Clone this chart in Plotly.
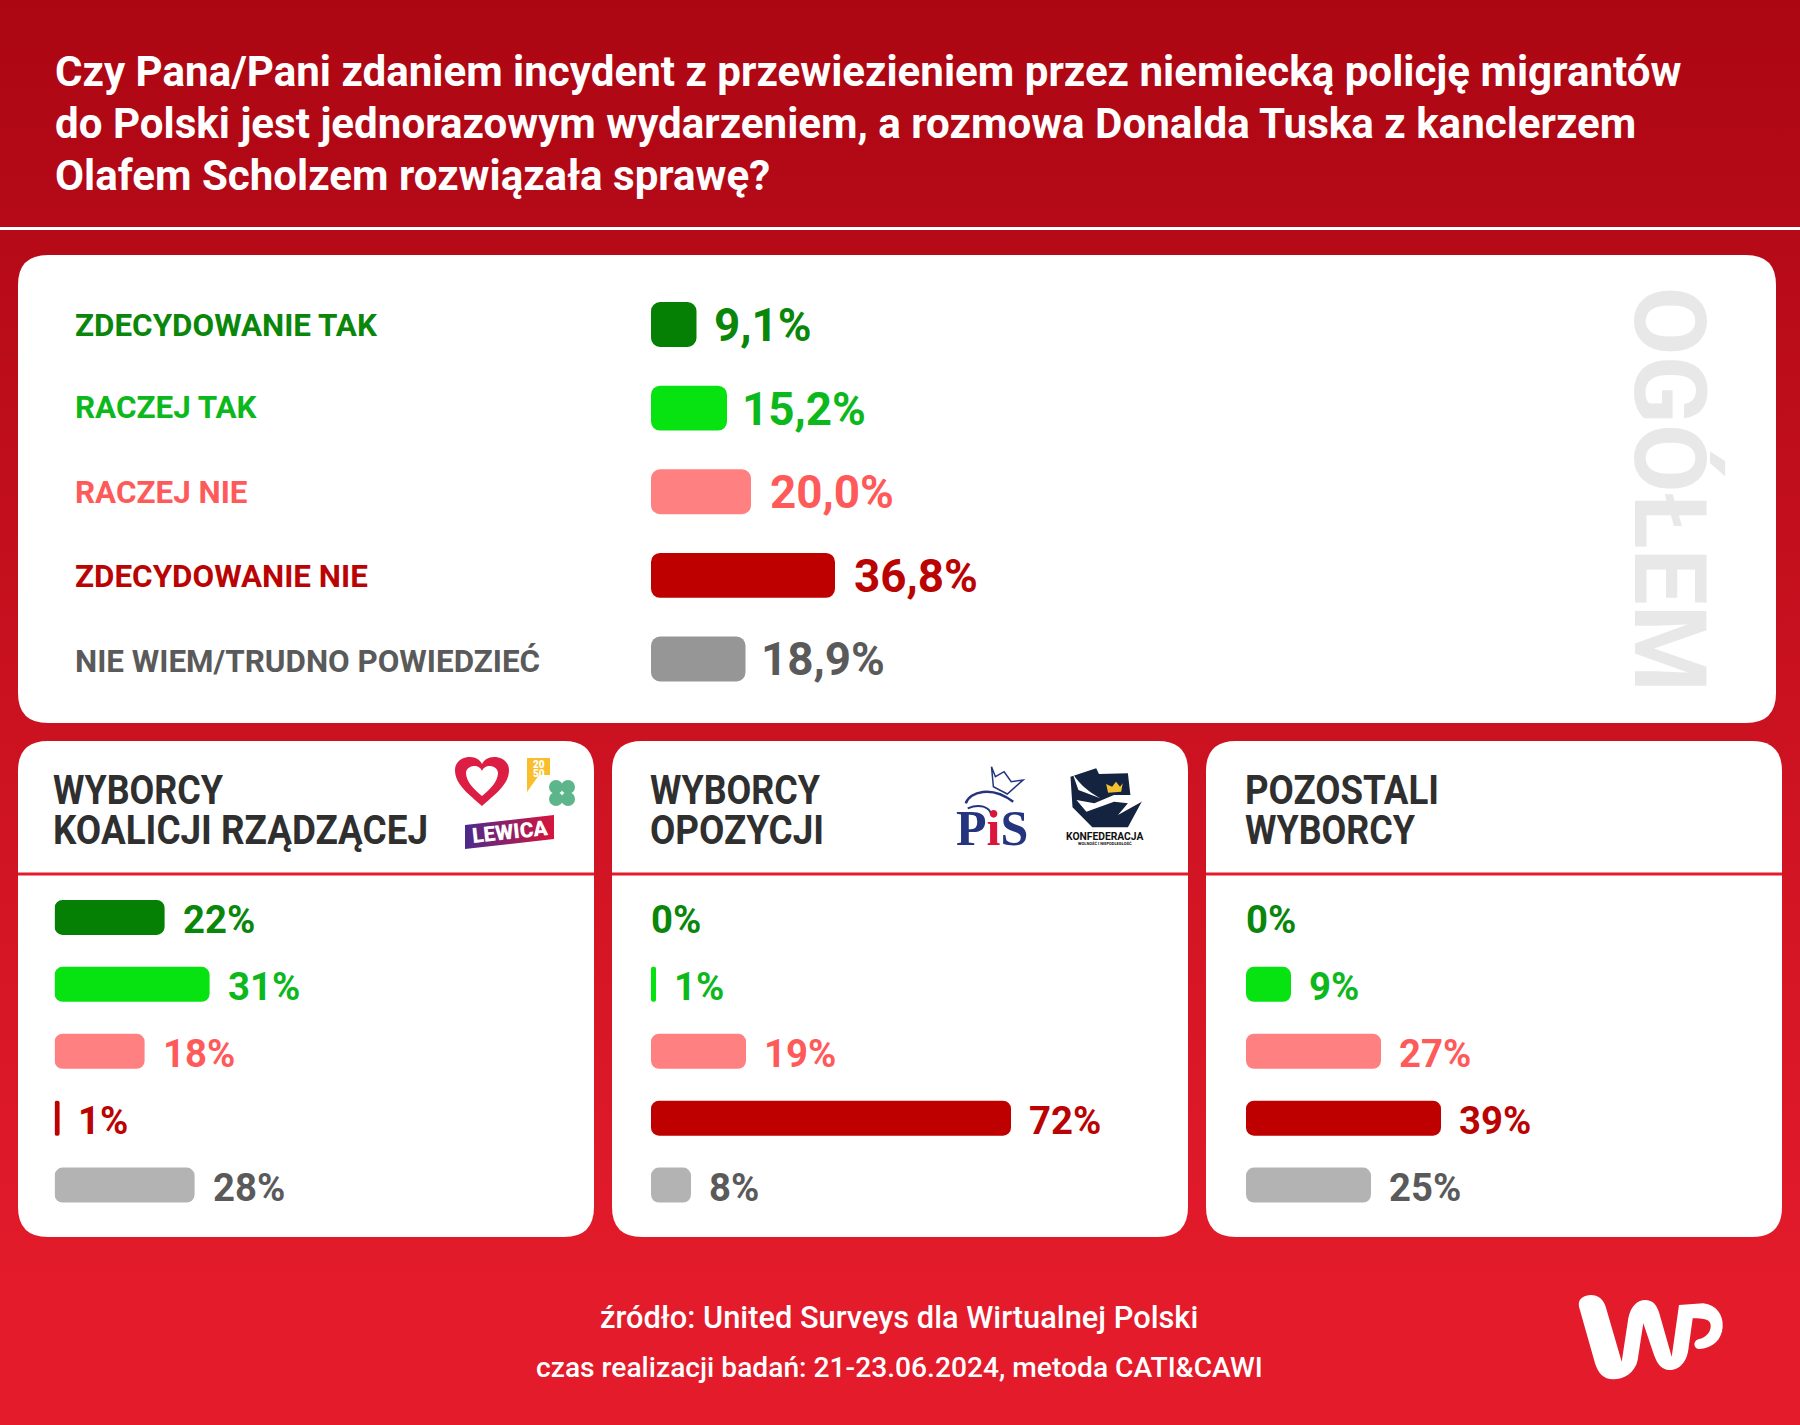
import base64
import plotly.graph_objects as go

title_lines = [
    "Czy Pana/Pani zdaniem incydent z przewiezieniem przez niemiecką policję migrantów",
    "do Polski jest jednorazowym wydarzeniem, a rozmowa Donalda Tuska z kanclerzem",
    "Olafem Scholzem rozwiązała sprawę?",
]
categories = ["ZDECYDOWANIE TAK", "RACZEJ TAK", "RACZEJ NIE", "ZDECYDOWANIE NIE", "NIE WIEM/TRUDNO POWIEDZIEĆ"]
overall_values = [9.1, 15.2, 20.0, 36.8, 18.9]
coalition_values = [22, 31, 18, 1, 28]
opposition_values = [0, 1, 19, 72, 8]
others_values = [0, 9, 27, 39, 25]
panel_titles = [["WYBORCY", "KOALICJI RZĄDZĄCEJ"], ["WYBORCY", "OPOZYCJI"], ["POZOSTALI", "WYBORCY"]]
source_lines = ["źródło: United Surveys dla Wirtualnej Polski",
                "czas realizacji badań: 21-23.06.2024, metoda CATI&CAWI"]

bar_colors = ["#058005", "#06E310", "#FF8080", "#BE0000", "#969696"]
panel_bar_colors = ["#058005", "#06E310", "#FF8080", "#BE0000", "#B3B3B3"]
text_colors = ["#0A870A", "#0CB81C", "#FF5A5A", "#BA0404", "#5A5A5A"]
HEAD = "#2F2F2F"
W, H = 1800, 1425
FONT = "Roboto"


def uri(svg):
    return "data:image/svg+xml;base64," + base64.b64encode(svg.encode()).decode()


bg_svg = ('<svg xmlns="http://www.w3.org/2000/svg" width="1800" height="1425" preserveAspectRatio="none">'
          '<defs><linearGradient id="g" x1="0" y1="0" x2="0" y2="1">'
          '<stop offset="0" stop-color="#AC0613"/><stop offset="0.9" stop-color="#E31B2B"/>'
          '<stop offset="1" stop-color="#E31B2B"/></linearGradient></defs>'
          '<rect width="1800" height="1425" fill="url(#g)"/></svg>')
lewica_svg = ('<svg xmlns="http://www.w3.org/2000/svg" width="90" height="34" viewBox="0 0 90 34">'
              '<defs><linearGradient id="g" x1="0" y1="0" x2="1" y2="0">'
              '<stop offset="0" stop-color="#4B2A8C"/><stop offset="1" stop-color="#D8143C"/></linearGradient></defs>'
              '<polygon points="0,10 89,0 89,24 0,34" fill="url(#g)"/></svg>')

fig = go.Figure()
fig.add_trace(go.Scatter(x=[0], y=[0], mode="markers", marker=dict(opacity=0), hoverinfo="skip",
                         showlegend=False, xaxis="x", yaxis="y"))

shapes, annos = [], []


def rrect(x0, y0, x1, y1, r, fill="white"):
    p = (f"M{x0+r},{y0} L{x1-r},{y0} Q{x1},{y0} {x1},{y0+r} L{x1},{y1-r} Q{x1},{y1} {x1-r},{y1} "
         f"L{x0+r},{y1} Q{x0},{y1} {x0},{y1-r} L{x0},{y0+r} Q{x0},{y0} {x0+r},{y0} Z")
    shapes.append(dict(type="path", path=p, fillcolor=fill, line=dict(width=0), layer="below", xref="x", yref="y"))


def path(p, fill="rgba(0,0,0,0)", lc=None, lw=0):
    shapes.append(dict(type="path", path=p, fillcolor=fill, line=dict(color=lc or fill, width=lw),
                       layer="below", xref="x", yref="y"))


def text(x, y, t, size, color, anchor="left", weight=700, family=FONT, angle=0, yanchor="middle"):
    annos.append(dict(x=x, y=y, xref="x", yref="y", text=t, showarrow=False, xanchor=anchor, yanchor=yanchor,
                      textangle=angle, align=anchor if anchor != "center" else "center",
                      font=dict(family=family, size=size, color=color, weight=weight)))


shapes.append(dict(type="rect", x0=0, x1=W, y0=227, y1=230, fillcolor="white", line=dict(width=0),
                   layer="below", xref="x", yref="y"))
for i, ln in enumerate(title_lines):
    text(53, 71 + i * 52, ln, 42.1, "white", weight=700)

rrect(18, 255, 1776, 723, 30)
cards = [(18, 594), (612, 1188), (1206, 1782)]
for (a, b) in cards:
    rrect(a, 741, b, 1237, 30)
    shapes.append(dict(type="rect", x0=a, x1=b, y0=872.5, y1=875.5, fillcolor="#E31B2B", line=dict(width=0),
                       layer="below", xref="x", yref="y"))
text(1669, 489.6, "OGÓŁEM", 100, "#E8E8E8", anchor="center", weight=700, angle=90)

layout_axes = {}


def add_bars(n, values, colors, x0, y0, y1, bargap, radius, fs, fmt, xshifts, yshift, width=500):
    xa, ya = f"x{n}", f"y{n}"
    # an explicit base makes plotly round both ends of each bar
    fig.add_trace(go.Bar(x=values, base=[0] * len(values), y=categories, orientation="h",
                         xaxis=xa, yaxis=ya, showlegend=False, width=1 - bargap, hoverinfo="skip",
                         marker=dict(color=colors, cornerradius=radius, line=dict(width=0))))
    layout_axes[f"xaxis{n}"] = dict(domain=[x0 / W, (x0 + width) / W], range=[0, width / 5], visible=False,
                                    fixedrange=True, anchor=ya)
    layout_axes[f"yaxis{n}"] = dict(domain=[1 - y1 / H, 1 - y0 / H], type="category",
                                    categoryorder="array", categoryarray=categories,
                                    range=[len(categories) - 0.5, -0.5], visible=False,
                                    fixedrange=True, anchor=xa)
    for c, v, tc, dx in zip(categories, values, text_colors, xshifts):
        annos.append(dict(x=v, y=c, xref=xa, yref=ya, text=fmt(v), showarrow=False, xanchor="left",
                          xshift=dx if v > 0 else -2, yshift=yshift, yanchor="middle",
                          font=dict(family=FONT, size=fs, color=tc, weight=700)))


add_bars(2, overall_values, bar_colors, 651, 282.7, 700.8, 0.462, 9, 45.8,
         lambda v: f"{v:.1f}".replace(".", ",") + "%", [15, 13, 17, 17, 13], -1)
starts = [54.6, 651, 1246]
for k, vals in enumerate([coalition_values, opposition_values, others_values]):
    add_bars(3 + k, vals, panel_bar_colors, starts[k], 884, 1218.5, 0.477, 8, 38.3,
             lambda v: f"{v}%", [16] * 5, -2)

label_y = [325, 407.5, 492.5, 576, 661]
for c, tc, ly in zip(categories, text_colors, label_y):
    text(72.7, ly, c, 31.4, tc, weight=700)

for (s, ttl) in zip(starts, panel_titles):
    for j, ln in enumerate(ttl):
        text(s - 3.5, 790 + j * 40.5, ln, 40, HEAD, weight=700)

text(899, 1317, source_lines[0], 30.8, "white", anchor="center", weight=500)
text(899, 1367, source_lines[1], 28.2, "white", anchor="center", weight=500)


def wp(x, y):
    return f"{1500 + x / 3:.1f},{1260 + y / 3:.1f}"


wp_path = ("M" + wp(237, 140) + " C" + wp(232, 115) + " " + wp(255, 105) + " " + wp(272, 105) +
           " C" + wp(295, 105) + " " + wp(310, 118) + " " + wp(317, 140) + " L" + wp(365, 305) +
           " L" + wp(385, 175) + " C" + wp(393, 135) + " " + wp(415, 120) + " " + wp(435, 120) +
           " C" + wp(460, 120) + " " + wp(470, 135) + " " + wp(478, 160) + " L" + wp(515, 290) +
           " L" + wp(537, 135) + " L" + wp(610, 130) + " C" + wp(650, 135) + " " + wp(670, 165) + " " + wp(668, 200) +
           " C" + wp(665, 240) + " " + wp(640, 262) + " " + wp(600, 267) + " C" + wp(583, 270) + " " + wp(575, 245) + " " + wp(595, 238) +
           " C" + wp(620, 232) + " " + wp(632, 215) + " " + wp(632, 198) + " C" + wp(632, 182) + " " + wp(622, 175) + " " + wp(578, 175) +
           " L" + wp(565, 270) + " C" + wp(558, 315) + " " + wp(530, 330) + " " + wp(510, 330) +
           " C" + wp(480, 330) + " " + wp(470, 305) + " " + wp(462, 285) + " L" + wp(430, 190) +
           " L" + wp(413, 300) + " C" + wp(405, 340) + " " + wp(370, 358) + " " + wp(340, 358) +
           " C" + wp(310, 358) + " " + wp(295, 340) + " " + wp(285, 310) + " Z")
path(wp_path, "white")

path("M482,806 C470,795 455,785 455,770 C455,762 462,757 470,757 C476,757 480,760 482,764 "
     "C484,760 488,757 494,757 C502,757 509,762 509,770 C509,785 494,795 482,806 Z", "#DC1E44")
path("M482,796 C475,790 466,782 466,773 C466,769 470,766 474,766 C478,766 481,768 482,771 "
     "C483,768 486,766 490,766 C494,766 498,769 498,773 C498,782 489,790 482,796 Z", "white")
path("M527,758 L550,758 L550,775 L539,775 L527,792 Z", "#F9BE2B")
text(538.5, 764, "20", 10, "white", anchor="center", weight=900)
text(538.5, 773, "50", 10, "white", anchor="center", weight=900)
for cx, cy in [(556, 787), (568, 787), (556, 799), (568, 799)]:
    shapes.append(dict(type="circle", x0=cx - 7, x1=cx + 7, y0=cy - 7, y1=cy + 7, fillcolor="#5DB58B",
                       line=dict(width=0), layer="below", xref="x", yref="y"))
images = [dict(source=uri(bg_svg), xref="paper", yref="paper", x=0, y=1, sizex=1, sizey=1,
               sizing="stretch", layer="below", xanchor="left", yanchor="top"),
          dict(source=uri(lewica_svg), xref="x", yref="y", x=465, y=815, sizex=90, sizey=34,
               sizing="stretch", layer="below", xanchor="left", yanchor="top")]
text(510, 832, "LEWICA", 21, "white", anchor="center", weight=900, angle=-6)


def z(x, y):
    return f"{600 + x / 2.529:.1f},{720 + y / 3:.1f}"


NAVY = "#24347F"
text(992, 828, 'P<span style="color:#D9163C">i</span>S', 50, NAVY, anchor="center", weight=700,
     family="Liberation Serif")
path("M" + z(990, 140) + " L" + z(1000, 170) + " L" + z(1022, 155) + " L" + z(1040, 185) + " L" + z(1070, 180) +
     " L" + z(1030, 222) + " L" + z(995, 200) + " Z", lc=NAVY, lw=1.5)
path("M" + z(925, 250) + " C" + z(935, 215) + " " + z(990, 195) + " " + z(1045, 245), lc=NAVY, lw=2.5)
path("M" + z(930, 265) + " C" + z(960, 250) + " " + z(985, 260) + " " + z(990, 285), lc=NAVY, lw=2)

K = "#14233F"
path("M" + z(1190, 170) + " L" + z(1255, 145) + " L" + z(1262, 162) + " L" + z(1335, 160) + " L" + z(1342, 230) +
     " L" + z(1370, 245) + " L" + z(1335, 322) + " L" + z(1245, 322) + " L" + z(1195, 262) + " Z", K)
path("M" + z(1195, 160) + " C" + z(1215, 200) + " " + z(1250, 225) + " " + z(1265, 235) + " L" + z(1210, 210) + " Z", "white")
path("M" + z(1205, 240) + " L" + z(1250, 250) + " L" + z(1300, 225) + " L" + z(1345, 225) + " L" + z(1370, 245) +
     " L" + z(1310, 285) + " L" + z(1335, 250) + " L" + z(1300, 245) + " L" + z(1230, 275) + " Z", "white")
path("M" + z(1280, 192) + " L" + z(1295, 200) + " L" + z(1305, 185) + " L" + z(1315, 200) + " L" + z(1322, 190) +
     " L" + z(1318, 215) + " L" + z(1285, 218) + " Z", "#F0C232")
text(1104.5, 836, "KONFEDERACJA", 10.3, "#111111", anchor="center", weight=700)
text(1104.5, 843, "WOLNOŚĆ I NIEPODLEGŁOŚĆ", 4, "#111111", anchor="center", weight=700)

fig.update_layout(
    width=W, height=H, margin=dict(l=0, r=0, t=0, b=0), paper_bgcolor="rgba(0,0,0,0)", plot_bgcolor="rgba(0,0,0,0)",
    xaxis=dict(domain=[0, 1], range=[0, W], visible=False, fixedrange=True, anchor="y"),
    yaxis=dict(domain=[0, 1], range=[H, 0], visible=False, fixedrange=True, anchor="x"),
    barmode="overlay", shapes=shapes, annotations=annos, images=images, showlegend=False, **layout_axes,
)
# Headings are condensed in the reference: squeeze the real text to its measured widths
post = """
document.body.style.margin='0';document.body.style.overflow='hidden';
var m={'WYBORCY':170,'KOALICJI RZĄDZĄCEJ':375,'OPOZYCJI':174,'POZOSTALI':194};
document.querySelectorAll('.annotation-text').forEach(function(t){
  var L=m[t.textContent];
  if(L){t.setAttribute('textLength',L);t.setAttribute('lengthAdjust','spacingAndGlyphs');}
});
"""
fig.write_html("out.html", config=dict(displayModeBar=False, responsive=False), post_script=post)
